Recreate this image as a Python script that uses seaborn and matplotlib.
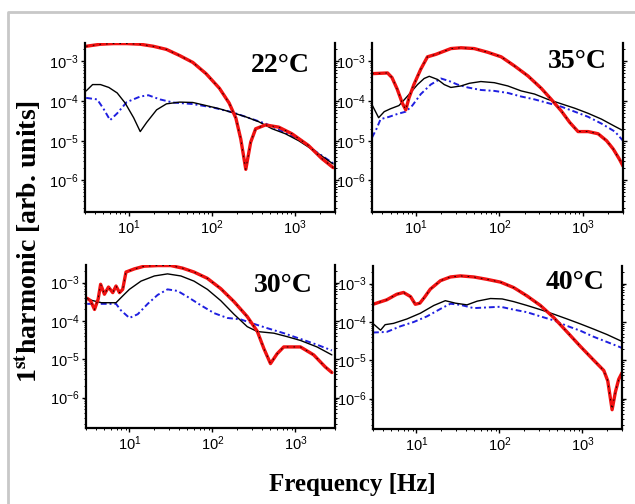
import matplotlib
matplotlib.use("Agg")
import matplotlib.pyplot as plt
from matplotlib.lines import Line2D
import seaborn as sns

# ── 22 °C ────────────────────────────────────────────────
f22_red = [3.1, 4.6, 6.6, 9.5, 13.8, 19.8, 28.5, 41, 59, 85, 123, 161, 194, 222,
           255, 292, 335, 440, 634, 912, 1440, 2070, 2850]
h22_red = [2.4e-3, 2.7e-3, 2.8e-3, 2.8e-3, 2.7e-3, 2.4e-3, 2.0e-3, 1.4e-3, 9.4e-4,
           4.9e-4, 2.1e-4, 8.9e-5, 3.7e-5, 1.1e-5, 1.9e-6, 9.2e-6, 2.0e-5, 2.5e-5,
           2.2e-5, 1.5e-5, 7.6e-6, 3.6e-6, 2.1e-6]
f22_black = [3.1, 3.7, 4.6, 5.8, 7.3, 9.1, 11.5, 13.8, 16.5, 21.7, 28.5, 41, 59, 85,
             123, 177, 255, 366, 528, 760, 1100, 1730, 2850]
h22_black = [1.8e-4, 2.6e-4, 2.6e-4, 2.2e-4, 1.6e-4, 8.9e-5, 3.8e-5, 1.7e-5, 2.9e-5,
             6.0e-5, 8.5e-5, 9.4e-5, 9.2e-5, 7.7e-5, 6.4e-5, 5.1e-5, 4.0e-5, 3.0e-5,
             2.0e-5, 1.5e-5, 1.0e-5, 5.4e-6, 2.6e-6]
f22_blue = [3.1, 4.2, 5.0, 6.0, 7.3, 9.5, 13.8, 17.3, 23.8, 34, 59, 102, 177, 306,
            440, 760, 1100, 1730, 2850]
h22_blue = [1.2e-4, 1.1e-4, 6.4e-5, 3.3e-5, 4.9e-5, 9.4e-5, 1.3e-4, 1.4e-4, 1.1e-4,
            9.2e-5, 8.4e-5, 6.9e-5, 5.2e-5, 3.5e-5, 2.7e-5, 1.6e-5, 1.1e-5, 5.5e-6,
            2.7e-6]

# ── 35 °C ────────────────────────────────────────────────
f35_red = [3.0, 4.6, 5.2, 6.0, 6.9, 7.6, 8.3, 9.5, 11.5, 13.8, 17.4, 26.3, 34.7, 50,
           72, 105, 151, 219, 316, 417, 550, 692, 871, 1150, 1510, 1910, 2290, 2700,
           3000]
h35_red = [4.9e-4, 5.1e-4, 3.9e-4, 2.0e-4, 8.9e-5, 6.0e-5, 1.2e-4, 2.6e-4, 6.4e-4,
           1.3e-3, 1.5e-3, 2.1e-3, 2.2e-3, 2.1e-3, 1.7e-3, 1.3e-3, 7.7e-4, 4.3e-4,
           2.1e-4, 1.1e-4, 5.6e-5, 2.9e-5, 1.7e-5, 1.7e-5, 1.5e-5, 1.0e-5, 6.2e-6,
           3.5e-6, 2.3e-6]
f35_black = [3.0, 3.6, 4.2, 5.0, 6.3, 7.9, 10.5, 12.6, 14.5, 18.2, 21.9, 26.3, 34.7,
             43.7, 60, 87, 126, 182, 263, 380, 550, 794, 1150, 1660, 2400, 3000]
h35_black = [8.1e-5, 3.8e-5, 5.4e-5, 6.4e-5, 7.7e-5, 1.3e-4, 2.6e-4, 3.7e-4, 4.2e-4,
             3.5e-4, 2.6e-4, 2.2e-4, 2.4e-4, 2.8e-4, 3.1e-4, 2.9e-4, 2.4e-4, 1.8e-4,
             1.5e-4, 1.1e-4, 8.5e-5, 6.6e-5, 4.9e-5, 3.5e-5, 2.3e-5, 1.8e-5]
f35_blue = [3.0, 3.4, 3.8, 4.8, 6.0, 7.6, 9.1, 11.5, 15.1, 20, 25, 31.6, 41.7, 60, 87,
            126, 182, 263, 380, 550, 794, 1150, 1660, 2400, 3000]
h35_blue = [1.2e-5, 2.0e-5, 3.5e-5, 4.0e-5, 4.7e-5, 5.4e-5, 7.7e-5, 1.5e-4, 2.6e-4,
            3.7e-4, 3.2e-4, 2.6e-4, 2.2e-4, 1.9e-4, 1.8e-4, 1.6e-4, 1.3e-4, 1.1e-4,
            8.9e-5, 7.2e-5, 5.4e-5, 4.0e-5, 2.7e-5, 1.7e-5, 1.0e-5]

# ── 30 °C ────────────────────────────────────────────────
f30_red = [3.1, 3.4, 3.8, 4.2, 4.5, 5.0, 5.6, 6.3, 6.9, 7.6, 8.3, 9.1, 11.5, 15.1,
           21.9, 31.6, 43.7, 60, 87, 126, 182, 263, 347, 417, 501, 603, 724, 1150,
           1660, 2290, 2750]
h30_red = [3.9e-4, 3.4e-4, 2.0e-4, 3.7e-4, 9.1e-4, 5.0e-4, 7.7e-4, 5.5e-4, 8.2e-4,
           5.5e-4, 6.7e-4, 1.9e-3, 2.3e-3, 2.7e-3, 2.8e-3, 2.8e-3, 2.4e-3, 1.9e-3,
           1.3e-3, 7.0e-4, 3.2e-4, 1.3e-4, 5.4e-5, 1.9e-5, 7.7e-6, 1.4e-5, 2.1e-5,
           2.1e-5, 1.3e-5, 6.3e-6, 4.5e-6]
f30_black = [3.1, 4.6, 6.9, 8.3, 10, 13.8, 20, 28.8, 41.7, 60, 87, 126, 182, 263, 347,
             550, 794, 1150, 1820, 2750]
h30_black = [3.7e-4, 3.0e-4, 3.0e-4, 4.5e-4, 6.7e-4, 1.1e-3, 1.5e-3, 1.7e-3, 1.5e-3,
             1.1e-3, 6.7e-4, 3.4e-4, 1.5e-4, 7.1e-5, 5.3e-5, 4.8e-5, 3.9e-5, 3.1e-5,
             2.1e-5, 1.3e-5]
f30_blue = [3.1, 4.6, 6.9, 7.9, 10, 12.6, 16.6, 21.9, 28.8, 38, 50, 72, 105, 151, 219,
            316, 457, 724, 1150, 1820, 2750]
h30_blue = [2.8e-4, 2.8e-4, 2.8e-4, 1.9e-4, 1.2e-4, 1.5e-4, 2.8e-4, 4.8e-4, 6.7e-4,
            6.1e-4, 4.3e-4, 2.6e-4, 1.6e-4, 1.2e-4, 1.1e-4, 8.4e-5, 6.5e-5, 4.8e-5,
            3.4e-5, 2.4e-5, 1.7e-5]

# ── 40 °C ────────────────────────────────────────────────
f40_red = [3.0, 4.4, 5.8, 7.0, 8.5, 9.7, 11.0, 12.5, 14.7, 19.5, 25.7, 33.9, 49, 71,
           103, 149, 215, 312, 452, 653, 946, 1370, 1810, 2020, 2280, 2500, 2740, 3000]
h40_red = [2.9e-4, 3.8e-4, 5.3e-4, 5.9e-4, 4.6e-4, 2.9e-4, 3.1e-4, 4.4e-4, 7.2e-4,
           1.2e-3, 1.5e-3, 1.6e-3, 1.5e-3, 1.3e-3, 1.1e-3, 7.9e-4, 4.8e-4, 2.7e-4,
           1.3e-4, 5.5e-5, 2.3e-5, 1.0e-5, 5.4e-6, 2.9e-6, 5.1e-7, 1.5e-6, 3.2e-6,
           4.7e-6]
f40_black = [3.0, 3.7, 4.2, 5.3, 7.7, 11.2, 16.2, 22.3, 29.5, 40.7, 54, 78, 108, 149,
             215, 312, 452, 653, 946, 1370, 1980, 3000]
h40_black = [9.1e-5, 6.1e-5, 8.5e-5, 9.2e-5, 1.2e-4, 1.7e-4, 2.7e-4, 3.6e-4, 3.1e-4,
             2.8e-4, 3.5e-4, 4.1e-4, 4.0e-4, 3.4e-4, 2.7e-4, 2.1e-4, 1.6e-4, 1.2e-4,
             8.9e-5, 6.5e-5, 4.7e-5, 3.1e-5]
f40_blue = [3.0, 4.4, 6.4, 9.3, 13.4, 19.5, 25.7, 33.9, 49, 71, 103, 149, 215, 312,
            452, 653, 946, 1370, 1980, 3000]
h40_blue = [5.3e-5, 5.5e-5, 7.7e-5, 1.0e-4, 1.4e-4, 2.2e-4, 3.0e-4, 2.8e-4, 2.3e-4,
            2.4e-4, 2.5e-4, 2.1e-4, 1.8e-4, 1.4e-4, 1.1e-4, 7.9e-5, 5.9e-5, 4.1e-5,
            3.0e-5, 2.1e-5]

paneles = [
    ("22°C", (f22_red, h22_red), (f22_black, h22_black), (f22_blue, h22_blue)),
    ("35°C", (f35_red, h35_red), (f35_black, h35_black), (f35_blue, h35_blue)),
    ("30°C", (f30_red, h30_red), (f30_black, h30_black), (f30_blue, h30_blue)),
    ("40°C", (f40_red, h40_red), (f40_black, h40_black), (f40_blue, h40_blue)),
]

# posiciones en pixeles: izquierda, derecha, arriba, abajo
cajas = [(85, 335, 43, 212), (372, 623, 43, 212), (86, 335, 265, 428), (373, 622, 266, 429)]
pos_etiqueta = [(0.90, 0.864), (0.936, 0.888), (0.91, 0.877), (0.93, 0.896)]

sns.set_style("ticks")
plt.rcParams["font.family"] = ["Liberation Sans", "DejaVu Sans"]
plt.rcParams["mathtext.fontset"] = "custom"
plt.rcParams["mathtext.rm"] = "Liberation Sans:bold"
plt.rcParams["mathtext.it"] = "Liberation Sans:bold"
plt.rcParams["mathtext.bf"] = "Liberation Sans:bold"
for clave in ["text.color", "xtick.color", "ytick.color", "axes.labelcolor"]:
    plt.rcParams[clave] = "black"

W, H = 635, 504
fig = plt.figure(figsize=(W / 100, H / 100), dpi=100)

ROJO = "#f01010"
AZUL = "#1f1fe0"

for (texto, rojo, negro, azul), (x0, x1, y0, y1), (tx, ty) in zip(paneles, cajas, pos_etiqueta):
    ax = fig.add_axes([x0 / W, 1 - y1 / H, (x1 - x0) / W, (y1 - y0) / H])
    ax.set_xscale("log")
    ax.set_yscale("log")

    sns.lineplot(x=azul[0], y=azul[1], ax=ax, estimator=None, sort=False,
                 color=AZUL, linewidth=1.4, linestyle=(0, (3, 1.5, 1, 1.5)))
    sns.lineplot(x=negro[0], y=negro[1], ax=ax, estimator=None, sort=False,
                 color="black", linewidth=1.0)
    sns.lineplot(x=rojo[0], y=rojo[1], ax=ax, estimator=None, sort=False,
                 color=ROJO, linewidth=2.4)
    # ajuste punteado encima de la curva roja
    sns.lineplot(x=rojo[0], y=rojo[1], ax=ax, estimator=None, sort=False,
                 color="black", linewidth=0.6, linestyle=(0, (2, 6)))

    ax.set_xlim(3, 3000)
    ax.set_ylim(1.6e-7, 2.9e-3)
    ax.set_xticks([10, 100, 1000])
    ax.set_yticks([1e-6, 1e-5, 1e-4, 1e-3])
    ax.set_xlabel("")
    ax.set_ylabel("")

    ax.spines["top"].set_visible(False)
    for s in ["left", "bottom", "right"]:
        ax.spines[s].set_linewidth(1.6)
        ax.spines[s].set_color("black")
    ax.tick_params(which="major", length=3, width=1, labelsize=10.5, pad=1.5)
    ax.tick_params(which="minor", length=1.5, width=0.7)
    ax.tick_params(axis="y", which="both", right=True)

    ax.text(tx, ty, texto, transform=ax.transAxes, ha="right", va="center",
            family="Liberation Serif", fontweight="bold", fontsize=20)

fig.text(352 / W, 1 - 485 / H, "Frequency [Hz]", ha="center", va="center",
         family="Liberation Serif", fontweight="bold", fontsize=18)
fig.text(28 / W, 1 - 241 / H, "1$^{\\mathbf{st}}$harmonic [arb. units]", ha="center",
         va="center", rotation=90, family="Liberation Serif", fontweight="bold",
         fontsize=20, math_fontfamily="stix")

# marco gris parcial
fig.add_artist(Line2D([8 / W, 8 / W, 1.0], [0.0, 1 - 12 / H, 1 - 12 / H],
                      transform=fig.transFigure, color="#c8c8c8", linewidth=2))

fig.savefig("out.png", dpi=100)
